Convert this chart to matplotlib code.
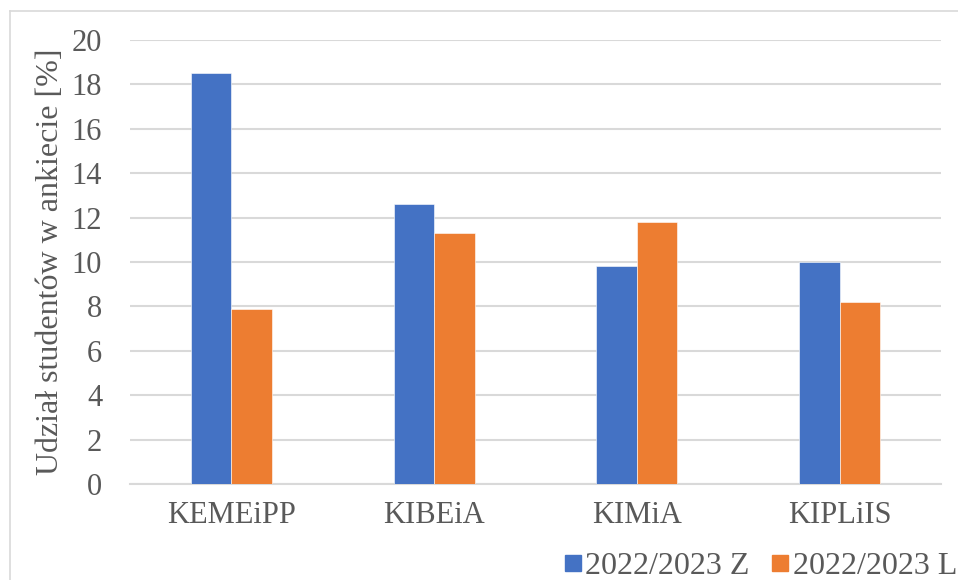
import matplotlib
matplotlib.use("Agg")
import matplotlib.pyplot as plt
from matplotlib.lines import Line2D
import numpy as np

categories = ["KEMEiPP", "KIBEiA", "KIMiA", "KIPLiIS"]
series_names = ["2022/2023 Z", "2022/2023 L"]
values_z = [18.5, 12.6, 9.8, 10.0]
values_l = [7.9, 11.3, 11.8, 8.2]
y_ticks = [0, 2, 4, 6, 8, 10, 12, 14, 16, 18, 20]

colors = ["#4472C4", "#ED7D31"]
text_color = "#595959"
grid_color = "#D9D9D9"

plt.rcParams["font.family"] = ["Liberation Serif", "DejaVu Serif"]

fig = plt.figure(figsize=(9.58, 5.8), dpi=100)
ax = fig.add_axes([0.1357, 0.1655, 0.8466, 0.7655])

x = np.arange(len(categories))
w = 0.2
ax.bar(x - w / 2, values_z, w, color=colors[0], edgecolor="white", linewidth=0.4, zorder=3)
ax.bar(x + w / 2, values_l, w, color=colors[1], edgecolor="white", linewidth=0.4, zorder=3)

ax.set_xlim(-0.5, len(categories) - 0.5)
ax.set_ylim(0, 20)
ax.set_yticks(y_ticks)
ax.set_xticks(x)
ax.set_xticklabels(categories)
ax.tick_params(axis="both", length=0, labelsize=22, labelcolor=text_color)
ax.tick_params(axis="x", pad=12)
ax.tick_params(axis="y", pad=20)
ax.grid(axis="y", color=grid_color, linewidth=1.5, zorder=0)
for side in ["top", "right", "left"]:
    ax.spines[side].set_visible(False)
ax.spines["bottom"].set_color(grid_color)
ax.spines["bottom"].set_linewidth(1.5)

ax.set_ylabel("Udział studentów w ankiecie [%]", fontsize=23, color=text_color, labelpad=5)

handles = [Line2D([], [], linestyle="none", marker="s", markersize=11,
                  markerfacecolor=c, markeredgecolor=c) for c in colors]
fig.legend(handles, series_names, loc="center left", bbox_to_anchor=(0.586, 0.024),
           frameon=False, fontsize=23, labelcolor=text_color, ncol=2,
           handletextpad=0.05, columnspacing=0.6, handlelength=0.7, borderpad=0,
           borderaxespad=0)

# chart frame
fig.add_artist(Line2D([0.0105, 1.0], [0.981, 0.981], color=grid_color, linewidth=1.2,
                      transform=fig.transFigure))
fig.add_artist(Line2D([0.0105, 0.0105], [0.0, 0.981], color=grid_color, linewidth=1.2,
                      transform=fig.transFigure))

fig.savefig("out.png", dpi=100)
